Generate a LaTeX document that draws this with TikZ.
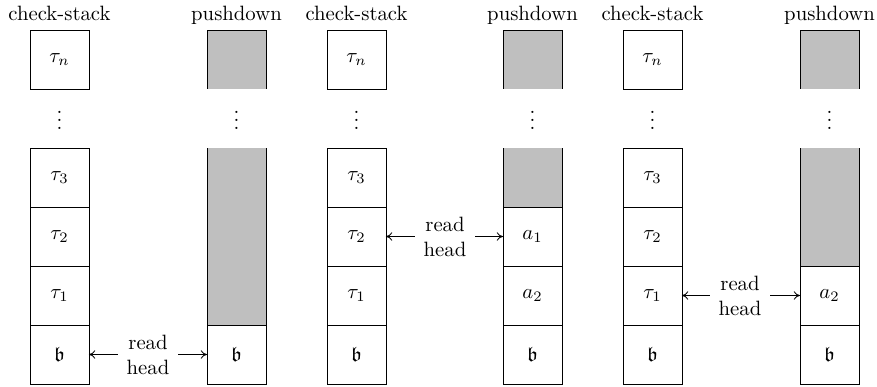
\documentclass[tikz,border=0pt]{standalone}
\usepackage{amssymb}
\usetikzlibrary{arrows.meta}
\begin{document}
\begin{tikzpicture}[x=0.016949cm,y=-0.016949cm,
  cell/.style={draw,thin,minimum width=1cm,minimum height=1cm,inner sep=0pt,outer sep=0pt},
  graycell/.style={fill=gray!50,draw=none,minimum width=1cm,inner sep=0pt,outer sep=0pt},
  header/.style={anchor=base,inner sep=0pt},
  rh/.style={align=center,inner xsep=4pt,inner ysep=1pt,font=\normalsize},
  ptr/.style={-{To[length=3pt,width=4pt]},thin},
  vdots/.style={inner sep=0pt}]
\useasboundingbox (0,0) rectangle (877,387);

% ---------- group 1 ----------
\node[header] (h1) at (59.5,20) {check-stack};
\node[header] (h2) at (236.5,20) {pushdown};
\node[cell] (a1n) at (59.5,59.5) {$\tau_n$};
\node[vdots] (a1d) at (59.5,114) {$\vdots$};
\node[cell] (a13) at (59.5,177.5) {$\tau_3$};
\node[cell] (a12) at (59.5,236.5) {$\tau_2$};
\node[cell] (a11) at (59.5,295.5) {$\tau_1$};
\node[cell] (a10) at (59.5,354.5) {$\mathfrak{b}$};
\node[graycell,minimum height=1cm] (b1t) at (236.5,59.5) {};
\draw (b1t.south west) -- (b1t.north west) -- (b1t.north east) -- (b1t.south east);
\node[vdots] (b1d) at (236.5,114) {$\vdots$};
\node[graycell,minimum height=3cm] (b1g) at (236.5,236.5) {};
\draw (b1g.north west) -- (b1g.south west) (b1g.north east) -- (b1g.south east);
\node[cell] (b10) at (236.5,354.5) {$\mathfrak{b}$};
\node[rh] (r1) at (148,354.5) {read\\head};
\draw[ptr] (r1.west) -- (a10.east);
\draw[ptr] (r1.east) -- (b10.west);

% ---------- group 2 ----------
\node[header] (h3) at (356.5,20) {check-stack};
\node[header] (h4) at (532.5,20) {pushdown};
\node[cell] (c1n) at (356.5,59.5) {$\tau_n$};
\node[vdots] (c1d) at (356.5,114) {$\vdots$};
\node[cell] (c13) at (356.5,177.5) {$\tau_3$};
\node[cell] (c12) at (356.5,236.5) {$\tau_2$};
\node[cell] (c11) at (356.5,295.5) {$\tau_1$};
\node[cell] (c10) at (356.5,354.5) {$\mathfrak{b}$};
\node[graycell,minimum height=1cm] (d1t) at (532.5,59.5) {};
\draw (d1t.south west) -- (d1t.north west) -- (d1t.north east) -- (d1t.south east);
\node[vdots] (d1d) at (532.5,114) {$\vdots$};
\node[graycell,minimum height=1cm] (d1g) at (532.5,177.5) {};
\draw (d1g.north west) -- (d1g.south west) (d1g.north east) -- (d1g.south east);
\node[cell] (d12) at (532.5,236.5) {$a_1$};
\node[cell] (d11) at (532.5,295.5) {$a_2$};
\node[cell] (d10) at (532.5,354.5) {$\mathfrak{b}$};
\node[rh] (r2) at (445,236.5) {read\\head};
\draw[ptr] (r2.west) -- (c12.east);
\draw[ptr] (r2.east) -- (d12.west);

% ---------- group 3 ----------
\node[header] (h5) at (652.5,20) {check-stack};
\node[header] (h6) at (829.5,20) {pushdown};
\node[cell] (e1n) at (652.5,59.5) {$\tau_n$};
\node[vdots] (e1d) at (652.5,114) {$\vdots$};
\node[cell] (e13) at (652.5,177.5) {$\tau_3$};
\node[cell] (e12) at (652.5,236.5) {$\tau_2$};
\node[cell] (e11) at (652.5,295.5) {$\tau_1$};
\node[cell] (e10) at (652.5,354.5) {$\mathfrak{b}$};
\node[graycell,minimum height=1cm] (f1t) at (829.5,59.5) {};
\draw (f1t.south west) -- (f1t.north west) -- (f1t.north east) -- (f1t.south east);
\node[vdots] (f1d) at (829.5,114) {$\vdots$};
\node[graycell,minimum height=2cm] (f1g) at (829.5,207) {};
\draw (f1g.north west) -- (f1g.south west) (f1g.north east) -- (f1g.south east);
\node[cell] (f11) at (829.5,295.5) {$a_2$};
\node[cell] (f10) at (829.5,354.5) {$\mathfrak{b}$};
\node[rh] (r3) at (740,295.5) {read\\head};
\draw[ptr] (r3.west) -- (e11.east);
\draw[ptr] (r3.east) -- (f11.west);
\end{tikzpicture}
\end{document}
